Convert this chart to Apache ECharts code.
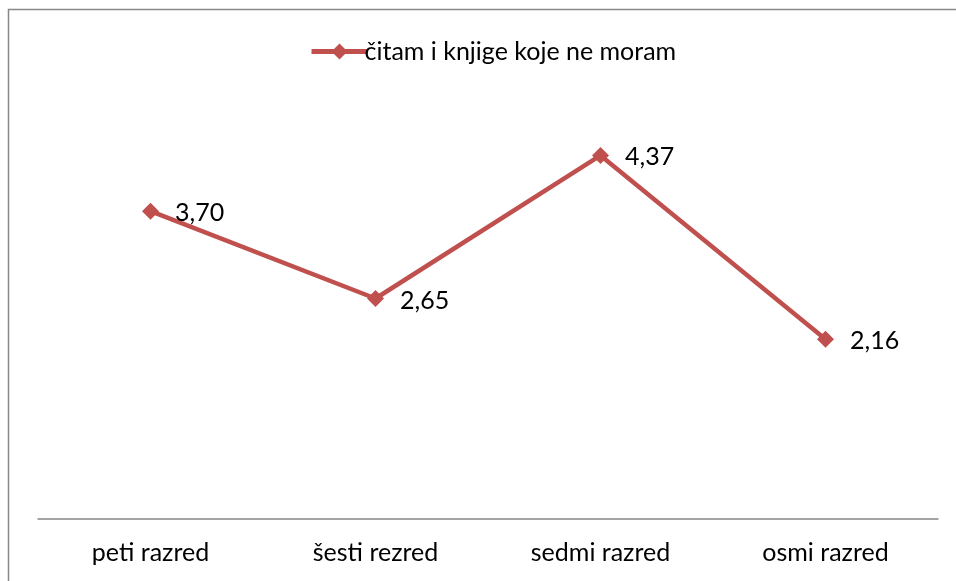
<!DOCTYPE html>
<html><head><meta charset="utf-8">
<script src="https://cdn.jsdelivr.net/npm/echarts@6/dist/echarts.min.js"></script>
<style>html,body{margin:0;padding:0;background:#fff}#c{width:956px;height:581px}</style>
</head><body><div id="c"></div>
<script>
const categories = ['peti razred', 'šesti rezred', 'sedmi razred', 'osmi razred'];
const seriesName = 'čitam i knjige koje ne moram';
const values = [3.70, 2.65, 4.37, 2.16];

const chart = echarts.init(document.getElementById('c'));
const FONT = 'Lato, "Open Sans", sans-serif';
chart.setOption({
  animation: false,
  graphic: [{
    type: 'rect', shape: {x: 8.5, y: 9.5, width: 1000, height: 700},
    style: {fill: null, stroke: '#888', lineWidth: 1.5}, silent: true
  }],
  legend: {
    top: 34, left: 304, itemWidth: 56, itemHeight: 20, itemGap: 0,
    lineStyle: {width: 5},
    textStyle: {fontFamily: FONT, fontSize: 25, color: '#000', padding: [0,0,0,-8]},
    data: [{name: seriesName}]
  },
  grid: {left: 38, right: 18, top: 103, bottom: 62},
  xAxis: {
    type: 'category', data: categories, boundaryGap: true,
    axisLine: {lineStyle: {color: '#868686', width: 1.5}},
    axisTick: {show: false},
    axisLabel: {fontFamily: FONT, fontSize: 25, color: '#000', margin: 21}
  },
  yAxis: {type: 'value', min: 0, max: 5, show: false, splitLine: {show: false}},
  series: [{
    name: seriesName, type: 'line', data: values,
    symbol: 'diamond', symbolSize: 17,
    lineStyle: {color: '#C0504D', width: 4.5},
    itemStyle: {color: '#C0504D'},
    label: {
      show: true, position: 'right', distance: 16,
      fontFamily: FONT, fontSize: 25, color: '#000', offset: [0, 2],
      formatter: p => p.value.toFixed(2).replace('.', ',')
    }
  }]
});
</script></body></html>
